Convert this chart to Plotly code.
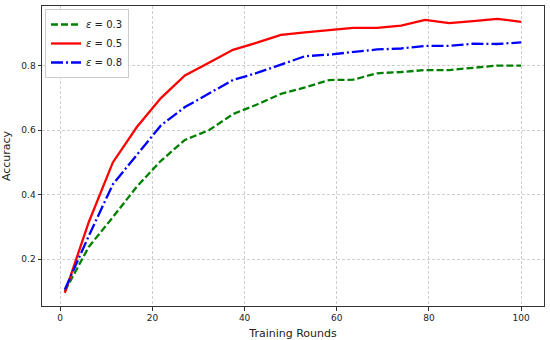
import plotly.graph_objects as go

rounds = [1, 6.21, 11.42, 16.63, 21.84, 27.05, 32.26, 37.47, 42.68, 47.89,
          53.11, 58.32, 63.53, 68.74, 73.95, 79.16, 84.37, 89.58, 94.79, 100]
acc_eps03 = [0.100, 0.238, 0.330, 0.425, 0.505, 0.570, 0.600, 0.650, 0.680, 0.713,
             0.733, 0.756, 0.757, 0.777, 0.781, 0.787, 0.787, 0.793, 0.801, 0.801]
acc_eps05 = [0.095, 0.315, 0.500, 0.610, 0.700, 0.770, 0.810, 0.850, 0.872, 0.896,
             0.904, 0.911, 0.918, 0.918, 0.925, 0.943, 0.933, 0.939, 0.946, 0.937]
acc_eps08 = [0.105, 0.272, 0.432, 0.525, 0.615, 0.672, 0.715, 0.756, 0.778, 0.805,
             0.830, 0.835, 0.842, 0.851, 0.854, 0.862, 0.862, 0.869, 0.868, 0.873]
labels = ["<i>ε</i> = 0.3", "<i>ε</i> = 0.5", "<i>ε</i> = 0.8"]
x_ticks = [0, 20, 40, 60, 80, 100]
y_ticks = [0.2, 0.4, 0.6, 0.8]

fig = go.Figure()
fig.add_trace(go.Scatter(x=rounds, y=acc_eps03, mode="lines", name=labels[0],
                         line=dict(color="#008000", width=2.3, dash="7px,3px")))
fig.add_trace(go.Scatter(x=rounds, y=acc_eps05, mode="lines", name=labels[1],
                         line=dict(color="#ff0000", width=2.3)))
fig.add_trace(go.Scatter(x=rounds, y=acc_eps08, mode="lines", name=labels[2],
                         line=dict(color="#0000ff", width=2.3, dash="12px,3px,2px,3px")))

axis_common = dict(showline=True, mirror=True, linecolor="#333333", linewidth=1,
                   ticks="outside", ticklen=3.5, tickwidth=1, tickcolor="#333333",
                   showgrid=True, gridcolor="#cfcfcf", gridwidth=0.8, griddash="3px,2px",
                   zeroline=False, automargin=False,
                   tickfont=dict(family="DejaVu Sans", size=9, color="#222222"))

fig.update_layout(
    width=550, height=340,
    margin=dict(l=42, r=6, t=6, b=34, autoexpand=False),
    paper_bgcolor="white", plot_bgcolor="white",
    font=dict(family="DejaVu Sans", color="#222222"),
    xaxis=dict(range=[-3.95, 104.95], tickvals=x_ticks,
               title=dict(text="Training Rounds", font=dict(size=11)),
               **axis_common),
    yaxis=dict(range=[0.054, 0.986], tickvals=y_ticks, tickformat=".1f",
               title=dict(text="Accuracy", font=dict(size=11)),
               **axis_common),
    legend=dict(x=0.006, y=0.99, xanchor="left", yanchor="top",
                bgcolor="rgba(255,255,255,0.9)", bordercolor="#cccccc", borderwidth=1,
                font=dict(family="DejaVu Sans", size=10), itemwidth=30,
                tracegroupgap=0),
    showlegend=True,
)

fig.write_html("out.html", config={"displayModeBar": False},
               post_script="document.body.style.margin='0px';")
